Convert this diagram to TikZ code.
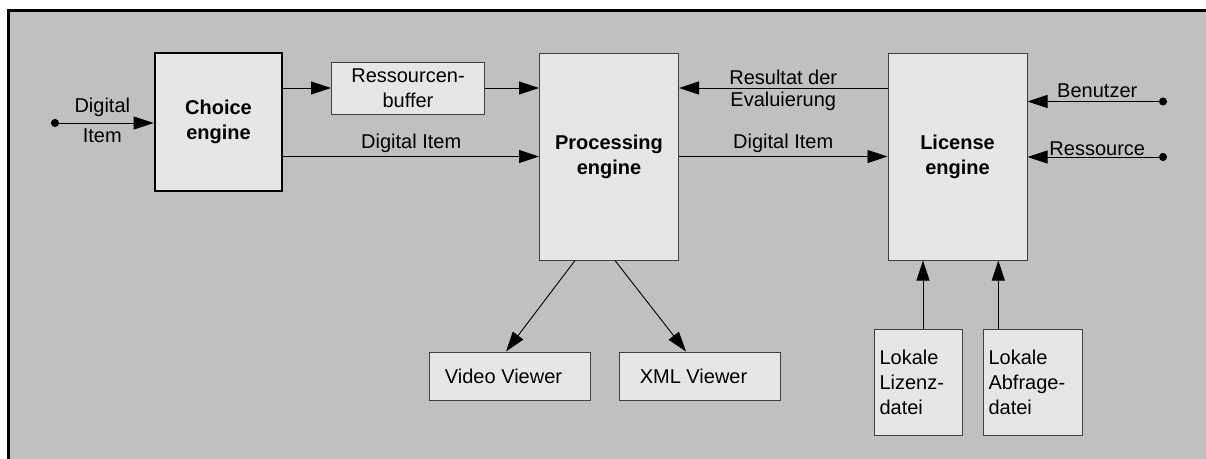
\documentclass[tikz,border=0pt]{standalone}
\usepackage{fontspec}
\setmainfont{Liberation Sans}
\usepackage{xcolor}
\usetikzlibrary{arrows.meta, calc, positioning}
\definecolor{framegray}{RGB}{192,192,192}
\definecolor{boxgray}{RGB}{230,230,230}
\definecolor{edgegray}{RGB}{64,64,64}
\tikzset{
  engine/.style={draw=edgegray, line width=1pt, fill=boxgray, font=\fontsize{20}{25}\selectfont\bfseries, align=center},
  unit/.style={draw=edgegray, line width=1pt, fill=boxgray, align=center},
  flow/.style={line width=0.9pt, -{Triangle[length=20pt,width=13pt]}},
  feed/.style={line width=0.9pt, {Circle[length=8pt]}-{Triangle[length=20pt,width=13pt]}},
  tag/.style={inner sep=1pt, align=center}
}

\begin{document}
\begin{tikzpicture}[x=1pt, y=-1pt, font=\fontsize{20}{25}\selectfont]
                \useasboundingbox (0,0) rectangle (1206,458);
                \clip (0,0) rectangle (1206,458);

                % Frame
                \fill[white] (0,0) rectangle (1206,458);
                \draw[line width=2.8pt, fill=framegray] (8.7,10.7) rectangle (1220,470);

                % Engines
                \node[engine, line width=2.8pt, draw=black, minimum width=127, minimum height=138] (choice) at (218.5,122) {Choice\\engine};
                \node[engine, minimum width=139, minimum height=207] (proc) at (609,156.5) {Processing\\engine};
                \node[engine, minimum width=139, minimum height=207] (lic) at (957.5,156.5) {License\\engine};

                % Buffer and viewers
                \node[unit, minimum width=153, minimum height=52] (buffer) at (408,88) {Ressourcen-\\buffer};
                \node[unit, minimum width=161, minimum height=48] (video) at (509.5,376) {Video Viewer\hspace{12pt}};
                \node[unit, minimum width=161, minimum height=48] (xml) at (699.5,376) {XML Viewer\hspace{12pt}};

                % Local files
                \node[unit, align=left, text width=78, inner xsep=5pt, minimum height=106] (lizenz) at (918.5,382) {Lokale\\Lizenz-\\datei};
                \node[unit, align=left, text width=89, inner xsep=5pt, minimum height=106] (abfrage) at (1033,382) {Lokale\\Abfrage-\\datei};

                % Free ends
                \coordinate (src) at (51,123);
                \coordinate (ben) at (1167,101.5);
                \coordinate (res) at (1167,157);
                \coordinate (lizout) at ([xshift=4.5pt]lizenz.north);
                \coordinate (abfout) at ([xshift=-34.7pt]abfrage.north);

                % Connectors
                \draw[feed] (src) -- (src -| choice.west)
                    node[tag, midway, above=5pt] (srctag) {Digital}
                    node[tag, midway, below=4pt] (srctag2) {Item};
                \draw[flow] (choice.east |- buffer.west) -- (buffer.west);
                \draw[flow] (buffer.east) -- (proc.west |- buffer.east);
                \draw[flow] (choice.east |- proc.west) -- (proc.west)
                    node[tag, midway, above=2pt] (ditag1) {Digital Item};
                \draw[flow] (lic.west |- buffer.east) -- (proc.east |- buffer.east)
                    node[tag, midway, above=2pt] (restag) {Resultat der}
                    node[tag, midway, below=3pt] (evaltag) {Evaluierung};
                \draw[flow] (proc.east) -- (lic.west)
                    node[tag, midway, above=2pt] (ditag2) {Digital Item};
                \draw[feed] (ben) -- (ben -| lic.east)
                    node[tag, midway, above=2pt] (bentag) {Benutzer};
                \draw[feed] (res) -- (res -| lic.east)
                    node[tag, midway, above=0pt] (restag2) {Ressource};
                \draw[flow] ([xshift=-34pt]proc.south) -- ([xshift=-3.5pt]video.north);
                \draw[flow] ([xshift=6pt]proc.south) -- ([xshift=-13.5pt]xml.north);
                \draw[flow] (lizout) -- (lizout |- lic.south);
                \draw[flow] (abfout) -- (abfout |- lic.south);
            \end{tikzpicture}
\end{document}
